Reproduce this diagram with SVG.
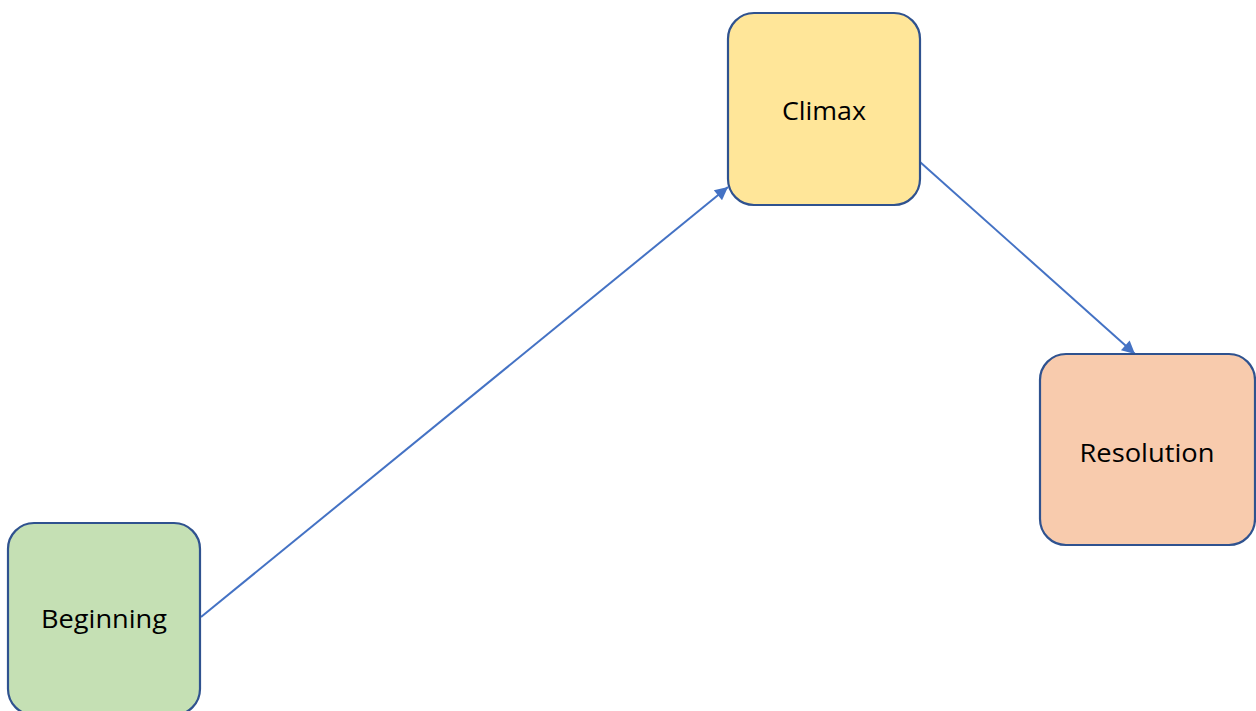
<svg xmlns="http://www.w3.org/2000/svg" width="1256" height="711" viewBox="0 0 1256 711">
<style>
.node rect{stroke:#2F528F;stroke-width:2.2}
.node text{font-family:"Open Sans","Liberation Sans",Arial,sans-serif;font-size:25px;fill:#000;text-anchor:middle}
.conn line{stroke:#4472C4;stroke-width:2;fill:none}
</style>
<defs>
<marker id="arr" viewBox="0 0 10 10" refX="10" refY="5" markerWidth="7" markerHeight="6.5" markerUnits="strokeWidth" orient="auto">
<path d="M0,0 L10,5 L0,10 z" fill="#4472C4"/>
</marker>
</defs>
<rect width="1256" height="711" fill="#fff"/>
<g id="connectors" class="conn">
<line x1="201" y1="617" x2="728" y2="187" marker-end="url(#arr)"/>
<line x1="920" y1="162" x2="1135" y2="354" marker-end="url(#arr)"/>
</g>
<g id="beginning" class="node">
<rect x="8" y="523" width="192" height="192" rx="26" fill="#C5E0B4"/>
<text x="104" y="628" textLength="126" lengthAdjust="spacingAndGlyphs">Beginning</text>
</g>
<g id="climax" class="node">
<rect x="728" y="13" width="192" height="192" rx="26" fill="#FFE699"/>
<text x="824" y="120" textLength="84" lengthAdjust="spacingAndGlyphs">Climax</text>
</g>
<g id="resolution" class="node">
<rect x="1040" y="354" width="215" height="191" rx="26" fill="#F8CBAD"/>
<text x="1147" y="462" textLength="135" lengthAdjust="spacingAndGlyphs">Resolution</text>
</g>
</svg>
